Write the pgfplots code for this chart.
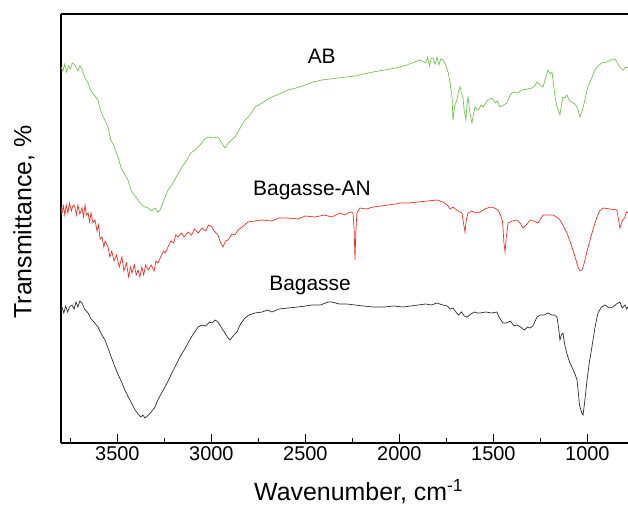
\documentclass[border=0pt]{standalone}
\usepackage{fontspec}
\setmainfont{Liberation Sans}
\usepackage{pgfplots}
\pgfplotsset{compat=1.18}

\definecolor{abgreen}{RGB}{115,195,85}
\definecolor{anred}{RGB}{232,50,40}
\definecolor{bagray}{RGB}{45,45,45}

\begin{document}
\begin{tikzpicture}
\begin{axis}[
    scale only axis,
    width=567bp, height=429bp,
    x dir=reverse,
    xmin=784, xmax=3800,
    ymin=0, ymax=429,
    axis x line=box, axis y line=left,
    axis line style={line width=1.2bp, -},
    xtick={1000,1500,2000,2500,3000,3500},
    minor xtick={1250,1750,2250,2750,3250,3750},
    xtick pos=bottom,
    tick align=inside,
    major tick length=9bp, minor tick length=5bp,
    every tick/.style={black, line width=1bp},
    ytick=\empty,
    /pgf/number format/assume math mode=true,
    /pgf/number format/1000 sep={},
    tick label style={font=\fontsize{20}{22}\selectfont},
    xlabel={Wavenumber, cm\textsuperscript{-1}},
    ylabel={Transmittance, \%},
    label style={font=\fontsize{25}{28}\selectfont},
    xlabel style={at={(axis description cs:0.525,-0.114)}, anchor=center},
    ylabel style={at={(axis description cs:-0.0653,0.515)}, anchor=center},
    clip=false,
]
% AB
\addplot[color=abgreen, line width=0.7bp, mark=none] coordinates {
(3800,376)(3790,372)(3780,379)(3770,371)(3760,377)(3750,374)(3740,380)(3726,378)(3710,372)(3700,377)(3690,375)
(3675,366)(3656,360)(3640,352)(3625,348)(3603,343)(3590,333)(3575,326)(3550,316)(3535,303)(3520,298)
(3497,286)(3480,275)(3465,270)(3444,263)(3425,252)(3410,248)(3390,243)(3370,238)(3355,236)(3337,235)
(3320,232)(3300,235)(3285,231)(3273,233)(3255,242)(3231,253)(3210,258)(3190,265)(3156,276)(3130,283)
(3110,290)(3087,293)(3060,298)(3040,303)(3018,306)(2995,305)(2965,306)(2945,300)(2928,295)(2905,301)
(2874,306)(2850,314)(2825,322)(2805,326)(2785,331)(2768,336)(2730,340)(2700,344)(2678,346)(2640,349)
(2593,353)(2550,355)(2502,358)(2460,361)(2412,363)(2370,364)(2327,365)(2280,366)(2236,367)(2190,369)
(2140,371)(2080,373)(2020,375)(1960,378)(1920,381)(1890,383)(1860,380)(1850,386)(1840,377)(1830,385)
(1821,385)(1810,379)(1800,386)(1790,378)(1780,384)(1768,383)(1755,379)(1741,371)(1730,360)(1720,346)
(1715,323)(1705,338)(1694,343)(1685,352)(1678,356)(1670,350)(1662,346)(1655,332)(1646,323)(1640,340)
(1635,346)(1625,330)(1614,320)(1605,330)(1598,336)(1580,333)(1565,338)(1555,336)(1530,343)(1507,345)
(1490,340)(1480,342)(1465,336)(1445,338)(1428,340)(1410,348)(1396,351)(1370,350)(1348,353)(1320,354)
(1295,355)(1280,357)(1268,361)(1250,358)(1236,356)(1222,365)(1210,373)(1198,369)(1188,371)(1180,358)
(1172,346)(1160,335)(1146,328)(1138,338)(1130,346)(1120,345)(1109,348)(1095,342)(1082,341)(1068,339)
(1055,336)(1045,330)(1039,326)(1025,334)(1013,343)(1005,350)(997,356)(975,366)(960,373)(949,376)
(925,380)(896,381)(875,383)(853,384)(840,380)(827,376)(810,373)(795,376)(784,375)
};
% Bagasse-AN
\addplot[color=anred, line width=0.7bp, mark=none] coordinates {
(3800,236)(3795,230)(3787,237)(3780,228)(3772,238)(3763,230)(3755,240)(3745,232)(3735,238)(3726,236)
(3718,228)(3710,238)(3700,229)(3688,235)(3680,226)(3672,238)(3665,228)(3656,230)(3648,221)(3640,230)
(3630,220)(3619,223)(3608,212)(3600,218)(3592,204)(3582,206)(3572,196)(3565,202)(3550,196)(3540,186)
(3530,192)(3518,182)(3505,188)(3490,176)(3476,186)(3465,172)(3452,180)(3440,166)(3430,176)(3422,170)
(3410,178)(3400,168)(3390,173)(3380,166)(3370,176)(3360,168)(3350,178)(3337,173)(3320,178)(3305,172)
(3295,182)(3284,180)(3270,186)(3255,192)(3245,190)(3231,196)(3215,202)(3200,200)(3190,208)(3178,206)
(3160,210)(3145,206)(3124,211)(3105,208)(3090,214)(3070,210)(3050,215)(3030,212)(3015,218)(2997,216)
(2985,212)(2965,208)(2950,200)(2938,196)(2925,202)(2912,203)(2890,209)(2875,208)(2858,213)(2830,217)
(2805,221)(2770,222)(2731,223)(2680,222)(2640,225)(2593,225)(2540,224)(2500,227)(2449,226)(2400,228)
(2360,226)(2316,230)(2290,228)(2273,230)(2255,231)(2247,230)(2241,215)(2236,183)(2232,210)(2226,230)
(2210,235)(2175,234)(2140,236)(2100,237)(2060,238)(2020,239)(1997,240)(1950,240)(1900,241)(1850,242)
(1800,243)(1770,241)(1745,238)(1730,234)(1715,236)(1695,233)(1680,231)(1667,230)(1660,221)(1651,211)
(1645,222)(1635,230)(1615,232)(1595,230)(1571,231)(1545,234)(1518,236)(1495,235)(1476,233)(1462,228)
(1452,222)(1449,216)(1444,200)(1438,191)(1432,205)(1422,220)(1400,222)(1374,223)(1358,220)(1343,215)
(1325,218)(1305,223)(1285,222)(1263,220)(1250,224)(1236,228)(1210,228)(1183,228)(1165,226)(1146,223)
(1128,217)(1109,210)(1093,202)(1077,193)(1062,184)(1050,176)(1040,172)(1029,173)(1020,178)(1013,183)
(1000,193)(986,203)(968,215)(949,226)(935,232)(917,235)(880,234)(843,233)(835,224)(827,215)
(815,222)(800,226)(792,231)(784,230)
};
% Bagasse
\addplot[color=bagray, line width=0.7bp, mark=none] coordinates {
(3800,133)(3795,136)(3785,130)(3775,137)(3765,131)(3755,136)(3741,138)(3730,134)(3720,141)(3710,136)
(3700,142)(3688,140)(3675,134)(3665,132)(3656,130)(3640,124)(3625,121)(3603,116)(3585,109)(3566,103)
(3550,95)(3535,87)(3513,76)(3495,68)(3480,62)(3460,53)(3445,47)(3425,40)(3406,33)(3390,29)
(3375,26)(3365,28)(3353,25)(3340,27)(3325,30)(3300,36)(3285,43)(3265,50)(3247,56)(3225,64)
(3210,70)(3194,76)(3170,85)(3145,93)(3124,100)(3100,108)(3085,112)(3071,116)(3050,118)(3030,117)
(3010,121)(2997,120)(2980,123)(2965,121)(2945,115)(2928,110)(2915,106)(2901,103)(2885,107)(2864,111)
(2845,119)(2821,125)(2800,128)(2768,130)(2730,131)(2700,133)(2678,131)(2640,134)(2593,135)(2540,136)
(2500,137)(2465,138)(2420,138)(2380,141)(2359,141)(2320,139)(2280,139)(2236,138)(2190,137)(2140,136)
(2080,136)(2030,137)(1981,136)(1940,137)(1900,138)(1860,139)(1830,138)(1800,140)(1770,138)(1745,137)
(1730,134)(1715,135)(1700,131)(1685,128)(1670,131)(1655,127)(1640,126)(1620,129)(1600,131)(1585,130)
(1571,130)(1540,131)(1510,130)(1481,131)(1470,126)(1460,123)(1449,120)(1430,120)(1410,122)(1390,117)
(1374,118)(1355,116)(1335,113)(1318,116)(1305,115)(1290,117)(1280,121)(1268,126)(1250,128)(1230,128)
(1210,130)(1190,128)(1175,128)(1162,126)(1155,118)(1146,103)(1138,108)(1130,110)(1120,98)(1110,90)
(1100,84)(1093,80)(1080,75)(1068,70)(1055,63)(1048,50)(1042,38)(1039,36)(1030,30)(1023,28)
(1015,40)(1008,52)(1002,63)(990,80)(976,96)(960,115)(944,130)(925,136)(906,138)(885,135)
(864,136)(845,139)(827,141)(815,135)(800,138)(790,134)(784,136)
};
\node[font=\fontsize{21}{24}\selectfont] at (axis cs:2413,387) {AB};
\node[font=\fontsize{21}{24}\selectfont] at (axis cs:2465,253) {Bagasse-AN};
\node[font=\fontsize{21}{24}\selectfont] at (axis cs:2475,158) {Bagasse};
\end{axis}
\pgfresetboundingbox
\useasboundingbox (current axis.south west) ++(-61bp,-67bp) rectangle ++(628bp,510bp);
\end{tikzpicture}
\end{document}
